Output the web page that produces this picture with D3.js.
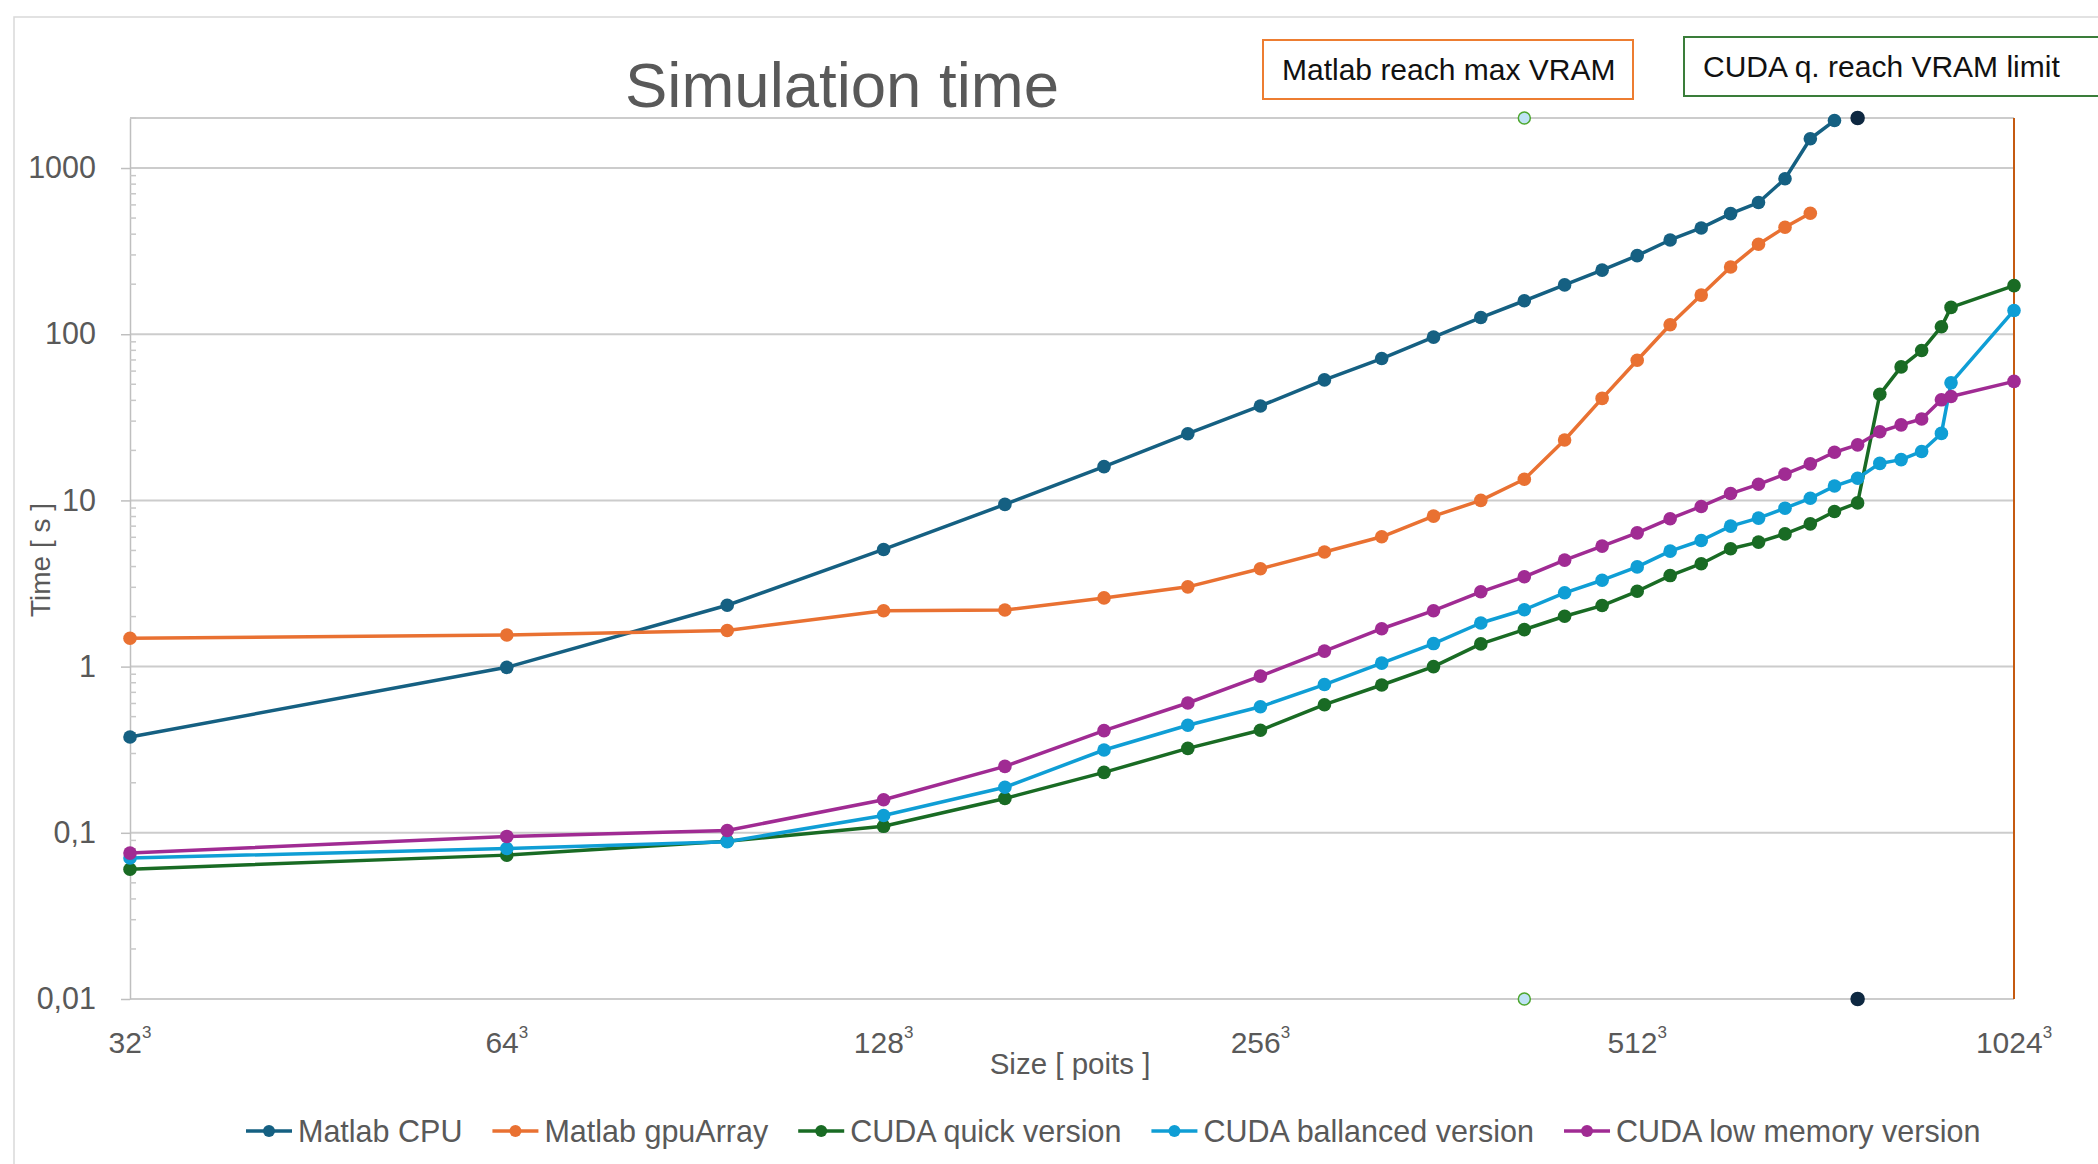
<!DOCTYPE html>
<html>
<head>
<meta charset="utf-8">
<script src="https://cdn.jsdelivr.net/npm/d3@7/dist/d3.min.js"></script>
<style>
  html, body { margin: 0; padding: 0; background: #fff; }
  svg { display: block; font-family: "Liberation Sans", Arial, sans-serif; }
</style>
</head>
<body>
<div id="chart"></div>
<script>
// grid sizes (points per side), one list per series
const sizesMatlab = [32, 64, 96, 128, 160, 192, 224, 256, 288, 320, 352, 384, 416, 448, 480, 512, 544, 576, 608, 640, 672, 704, 736];
const sizesGpu = [32, 64, 96, 128, 160, 192, 224, 256, 288, 320, 352, 384, 416, 448, 480, 512, 544, 576, 608, 640, 672, 704];
const sizesCuda = [32, 64, 96, 128, 160, 192, 224, 256, 288, 320, 352, 384, 416, 448, 480, 512, 544, 576, 608, 640, 672, 704, 736, 768, 800, 832, 864, 896, 912, 1024];

// times in seconds
const matlabCpu = [0.377, 0.99, 2.34, 5.07, 9.46, 15.96, 25.2, 37.0, 53.1, 71.4, 96, 126, 159, 198, 243, 297, 369, 436, 532, 620, 862, 1500, 1931];
const matlabGpu = [1.48, 1.55, 1.65, 2.17, 2.19, 2.59, 3.02, 3.88, 4.89, 6.04, 8.04, 10.0, 13.4, 23.1, 41.1, 69.7, 114, 172, 254, 348, 440, 534];
const cudaQuick = [0.0604, 0.0734, 0.089, 0.1094, 0.161, 0.231, 0.322, 0.414, 0.59, 0.775, 1.0, 1.37, 1.67, 2.01, 2.33, 2.84, 3.53, 4.16, 5.12, 5.61, 6.29, 7.23, 8.57, 9.66, 43.5, 63.6, 79.8, 111, 145, 196];
const cudaBalanced = [0.0705, 0.0805, 0.0884, 0.127, 0.188, 0.315, 0.444, 0.573, 0.78, 1.05, 1.376, 1.83, 2.2, 2.78, 3.31, 3.98, 4.95, 5.74, 7.0, 7.82, 8.98, 10.3, 12.2, 13.6, 16.7, 17.6, 19.7, 25.3, 51, 139];
const cudaLowMem = [0.0755, 0.0951, 0.1033, 0.158, 0.251, 0.412, 0.604, 0.877, 1.24, 1.69, 2.17, 2.82, 3.47, 4.37, 5.31, 6.38, 7.76, 9.2, 11.0, 12.5, 14.4, 16.6, 19.5, 21.6, 25.9, 28.5, 30.9, 40.3, 42.2, 52];

const seriesNames = ['Matlab CPU', 'Matlab gpuArray', 'CUDA quick version', 'CUDA ballanced version', 'CUDA low memory version'];
const seriesColors = ['#156082', '#e97132', '#196b24', '#0f9ed5', '#a02b93'];

// axis ticks
const xTickSizes = [32, 64, 128, 256, 512, 1024];
const yTickValues = [0.01, 0.1, 1, 10, 100, 1000];
const yTickLabels = ['0,01', '0,1', '1', '10', '100', '1000'];

// sizes where the VRAM limits were hit (vertical marker pairs)
const vramSizes = [416, 768];
const vramFill = ['#bfe3f5', '#0e2841'];
const vramStroke = ['#4ea72e', '#0e2841'];
const limitSize = 1024;

const width = 2098;
const height = 1164;
const plot = {left: 130, right: 2014, top: 118, bottom: 999};

const svg = d3.select('#chart').append('svg').attr('width', width).attr('height', height);

// outer chart frame (cropped on the right and bottom)
svg.append('path')
  .attr('d', `M14,${height} L14,17 L${width},17`)
  .attr('fill', 'none').attr('stroke', '#d9d9d9').attr('stroke-width', 1.5);

const x = d3.scaleLog().base(2).domain([32, 1024]).range([plot.left, plot.right]);
const y = d3.scaleLog().domain([0.01, 2000]).range([plot.bottom, plot.top]);

// gridlines
svg.append('g').selectAll('line')
  .data(yTickValues.concat([2000]))
  .enter().append('line')
  .attr('x1', plot.left).attr('x2', plot.right)
  .attr('y1', d => y(d)).attr('y2', d => y(d))
  .attr('stroke', '#cccccc').attr('stroke-width', 2);

// y axis
const yAxis = d3.axisLeft(y)
  .tickValues(yTickValues)
  .tickFormat((d, i) => yTickLabels[i])
  .tickSizeInner(9).tickSizeOuter(0).tickPadding(25);
const gy = svg.append('g').attr('transform', `translate(${plot.left},0)`).call(yAxis);
gy.select('.domain').attr('stroke', '#bfbfbf').attr('stroke-width', 1.5);
gy.selectAll('.tick line').attr('stroke', '#bfbfbf').attr('stroke-width', 1.5);
gy.selectAll('.tick text').attr('fill', '#595959').style('font-size', '30.5px').attr('font-family', null);

// minor ticks (inside)
const minorVals = [];
yTickValues.forEach(d => { for (let k = 2; k <= 9; k++) { if (k * d <= 2000) minorVals.push(k * d); } });
svg.append('g').selectAll('line')
  .data(minorVals)
  .enter().append('line')
  .attr('x1', plot.left).attr('x2', plot.left + 6)
  .attr('y1', d => y(d)).attr('y2', d => y(d))
  .attr('stroke', '#c8c8c8').attr('stroke-width', 1.5);

// x axis labels  N^3
const xl = svg.append('g').selectAll('text')
  .data(xTickSizes)
  .enter().append('text')
  .attr('x', d => x(d)).attr('y', 1053)
  .attr('text-anchor', 'middle')
  .attr('fill', '#595959').style('font-size', '30px');
xl.append('tspan').text(d => d);
xl.append('tspan').attr('dy', -15).style('font-size', '17px').text('3');

// axis titles
svg.append('text')
  .attr('x', 1070).attr('y', 1074)
  .attr('text-anchor', 'middle').attr('fill', '#595959').style('font-size', '29.5px')
  .text('Size [ poits ]');
svg.append('text')
  .attr('transform', 'translate(50,560) rotate(-90)')
  .attr('text-anchor', 'middle').attr('fill', '#595959').style('font-size', '28px')
  .text('Time [ s ]');

// title
svg.append('text')
  .attr('x', 842).attr('y', 107)
  .attr('text-anchor', 'middle').attr('fill', '#595959').style('font-size', '63.5px')
  .text('Simulation time');

// VRAM limit line at right edge
svg.append('line')
  .attr('x1', x(limitSize)).attr('x2', x(limitSize))
  .attr('y1', plot.top).attr('y2', plot.bottom)
  .attr('stroke', '#c55a11').attr('stroke-width', 2);

// series
const seriesData = [
  sizesMatlab.map((n, i) => ({n: n, v: matlabCpu[i]})),
  sizesGpu.map((n, i) => ({n: n, v: matlabGpu[i]})),
  sizesCuda.map((n, i) => ({n: n, v: cudaQuick[i]})),
  sizesCuda.map((n, i) => ({n: n, v: cudaBalanced[i]})),
  sizesCuda.map((n, i) => ({n: n, v: cudaLowMem[i]}))
];

const line = d3.line().x(d => x(d.n)).y(d => y(d.v));

seriesData.forEach((data, s) => {
  const g = svg.append('g');
  g.append('path')
    .datum(data)
    .attr('d', line)
    .attr('fill', 'none')
    .attr('stroke', seriesColors[s])
    .attr('stroke-width', 3.5)
    .attr('stroke-linejoin', 'round');
  g.selectAll('circle')
    .data(data)
    .enter().append('circle')
    .attr('cx', d => x(d.n)).attr('cy', d => y(d.v))
    .attr('r', 6.8)
    .attr('fill', seriesColors[s]);
});

// VRAM markers at top and bottom of plot
vramSizes.forEach((n, i) => {
  svg.append('g').selectAll('circle')
    .data([2000, 0.01])
    .enter().append('circle')
    .attr('cx', x(n)).attr('cy', d => y(d))
    .attr('r', i === 0 ? 6 : 6.5)
    .attr('fill', vramFill[i])
    .attr('stroke', vramStroke[i])
    .attr('stroke-width', 1.5);
});

// annotation boxes
const notes = [
  {text: 'Matlab reach max VRAM', x: 1263, y: 40, w: 370, h: 59, color: '#ed7d31'},
  {text: 'CUDA q. reach VRAM limit', x: 1684, y: 37, w: 430, h: 59, color: '#3a7d3a'}
];
notes.forEach(nt => {
  svg.append('rect')
    .attr('x', nt.x).attr('y', nt.y).attr('width', nt.w).attr('height', nt.h)
    .attr('fill', '#fff').attr('stroke', nt.color).attr('stroke-width', 2);
  svg.append('text')
    .attr('x', nt.x + 19).attr('y', nt.y + 40)
    .attr('fill', '#111').style('font-size', '30px')
    .text(nt.text);
});

// legend
const legend = svg.append('g');
let lx = 246;
const ly = 1131;
seriesNames.forEach((name, s) => {
  legend.append('line')
    .attr('x1', lx).attr('x2', lx + 46).attr('y1', ly).attr('y2', ly)
    .attr('stroke', seriesColors[s]).attr('stroke-width', 3.5);
  legend.append('circle')
    .attr('cx', lx + 23).attr('cy', ly).attr('r', 6)
    .attr('fill', seriesColors[s]);
  const t = legend.append('text')
    .attr('x', lx + 52).attr('y', ly + 11)
    .attr('fill', '#595959').style('font-size', '30.5px')
    .text(name);
  lx += 52 + t.node().getComputedTextLength() + 30;
});
</script>
</body>
</html>
